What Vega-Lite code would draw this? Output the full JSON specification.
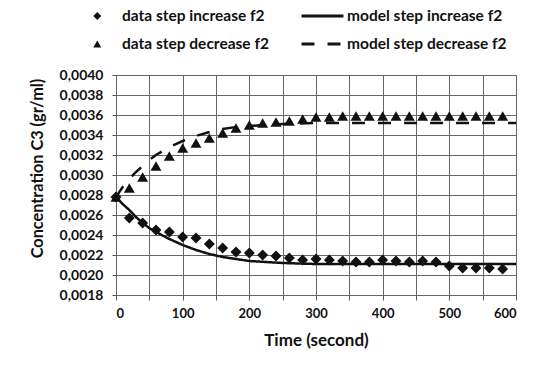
{
  "$schema": "https://vega.github.io/schema/vega-lite/v6.json",
  "width": 400,
  "height": 220,
  "autosize": {"type": "none"},
  "padding": {"left": 116, "top": 75, "right": 17, "bottom": 70},
  "background": "white",
  "config": {
    "font": "Lato",
    "view": {"stroke": "#555", "strokeWidth": 1},
    "axis": {
      "labelFont": "Lato", "labelFontWeight": "bold", "labelColor": "#111",
      "titleFont": "Lato", "titleFontWeight": "bold", "titleColor": "#111",
      "gridColor": "#666", "gridWidth": 1, "gridOpacity": 1,
      "domain": false, "tickColor": "#555", "tickSize": 4
    },
    "legend": {"labelFont": "Lato", "labelFontWeight": "bold", "labelColor": "#111", "labelFontSize": 15.5}
  },
  "data": {"values": [
    {"t": 0, "c": 0.00278, "series": "data step increase f2"},
    {"t": 20, "c": 0.00257, "series": "data step increase f2"},
    {"t": 40, "c": 0.00252, "series": "data step increase f2"},
    {"t": 60, "c": 0.00245, "series": "data step increase f2"},
    {"t": 80, "c": 0.00243, "series": "data step increase f2"},
    {"t": 100, "c": 0.00238, "series": "data step increase f2"},
    {"t": 120, "c": 0.00237, "series": "data step increase f2"},
    {"t": 140, "c": 0.00231, "series": "data step increase f2"},
    {"t": 160, "c": 0.00227, "series": "data step increase f2"},
    {"t": 180, "c": 0.00223, "series": "data step increase f2"},
    {"t": 200, "c": 0.00222, "series": "data step increase f2"},
    {"t": 220, "c": 0.00220, "series": "data step increase f2"},
    {"t": 240, "c": 0.00219, "series": "data step increase f2"},
    {"t": 260, "c": 0.00217, "series": "data step increase f2"},
    {"t": 280, "c": 0.00215, "series": "data step increase f2"},
    {"t": 300, "c": 0.00216, "series": "data step increase f2"},
    {"t": 320, "c": 0.00215, "series": "data step increase f2"},
    {"t": 340, "c": 0.00214, "series": "data step increase f2"},
    {"t": 360, "c": 0.00213, "series": "data step increase f2"},
    {"t": 380, "c": 0.00213, "series": "data step increase f2"},
    {"t": 400, "c": 0.00215, "series": "data step increase f2"},
    {"t": 420, "c": 0.00214, "series": "data step increase f2"},
    {"t": 440, "c": 0.00213, "series": "data step increase f2"},
    {"t": 460, "c": 0.00214, "series": "data step increase f2"},
    {"t": 480, "c": 0.00213, "series": "data step increase f2"},
    {"t": 500, "c": 0.00209, "series": "data step increase f2"},
    {"t": 520, "c": 0.00207, "series": "data step increase f2"},
    {"t": 540, "c": 0.00207, "series": "data step increase f2"},
    {"t": 560, "c": 0.00207, "series": "data step increase f2"},
    {"t": 580, "c": 0.00206, "series": "data step increase f2"},
    {"t": 0, "c": 0.00278, "series": "data step decrease f2"},
    {"t": 20, "c": 0.00287, "series": "data step decrease f2"},
    {"t": 40, "c": 0.00298, "series": "data step decrease f2"},
    {"t": 60, "c": 0.00309, "series": "data step decrease f2"},
    {"t": 80, "c": 0.00319, "series": "data step decrease f2"},
    {"t": 100, "c": 0.00327, "series": "data step decrease f2"},
    {"t": 120, "c": 0.00332, "series": "data step decrease f2"},
    {"t": 140, "c": 0.00337, "series": "data step decrease f2"},
    {"t": 160, "c": 0.00342, "series": "data step decrease f2"},
    {"t": 180, "c": 0.00347, "series": "data step decrease f2"},
    {"t": 200, "c": 0.00350, "series": "data step decrease f2"},
    {"t": 220, "c": 0.00352, "series": "data step decrease f2"},
    {"t": 240, "c": 0.00353, "series": "data step decrease f2"},
    {"t": 260, "c": 0.00354, "series": "data step decrease f2"},
    {"t": 280, "c": 0.00356, "series": "data step decrease f2"},
    {"t": 300, "c": 0.00358, "series": "data step decrease f2"},
    {"t": 320, "c": 0.00358, "series": "data step decrease f2"},
    {"t": 340, "c": 0.00359, "series": "data step decrease f2"},
    {"t": 360, "c": 0.00359, "series": "data step decrease f2"},
    {"t": 380, "c": 0.00359, "series": "data step decrease f2"},
    {"t": 400, "c": 0.00359, "series": "data step decrease f2"},
    {"t": 420, "c": 0.00359, "series": "data step decrease f2"},
    {"t": 440, "c": 0.00359, "series": "data step decrease f2"},
    {"t": 460, "c": 0.00359, "series": "data step decrease f2"},
    {"t": 480, "c": 0.00359, "series": "data step decrease f2"},
    {"t": 500, "c": 0.00359, "series": "data step decrease f2"},
    {"t": 520, "c": 0.00359, "series": "data step decrease f2"},
    {"t": 540, "c": 0.00359, "series": "data step decrease f2"},
    {"t": 560, "c": 0.00359, "series": "data step decrease f2"},
    {"t": 580, "c": 0.00359, "series": "data step decrease f2"},
    {"t": 0, "c": 0.00278, "series": "model step increase f2"},
    {"t": 10, "c": 0.00271, "series": "model step increase f2"},
    {"t": 20, "c": 0.00265, "series": "model step increase f2"},
    {"t": 30, "c": 0.00258, "series": "model step increase f2"},
    {"t": 40, "c": 0.00252, "series": "model step increase f2"},
    {"t": 50, "c": 0.00247, "series": "model step increase f2"},
    {"t": 60, "c": 0.00243, "series": "model step increase f2"},
    {"t": 80, "c": 0.00236, "series": "model step increase f2"},
    {"t": 100, "c": 0.00230, "series": "model step increase f2"},
    {"t": 120, "c": 0.00225, "series": "model step increase f2"},
    {"t": 140, "c": 0.00221, "series": "model step increase f2"},
    {"t": 160, "c": 0.00218, "series": "model step increase f2"},
    {"t": 180, "c": 0.00216, "series": "model step increase f2"},
    {"t": 200, "c": 0.00214, "series": "model step increase f2"},
    {"t": 225, "c": 0.00213, "series": "model step increase f2"},
    {"t": 250, "c": 0.00212, "series": "model step increase f2"},
    {"t": 300, "c": 0.00211, "series": "model step increase f2"},
    {"t": 400, "c": 0.00211, "series": "model step increase f2"},
    {"t": 500, "c": 0.00211, "series": "model step increase f2"},
    {"t": 600, "c": 0.00211, "series": "model step increase f2"},
    {"t": 0, "c": 0.00278, "series": "model step decrease f2"},
    {"t": 10, "c": 0.00288, "series": "model step decrease f2"},
    {"t": 20, "c": 0.00296, "series": "model step decrease f2"},
    {"t": 30, "c": 0.00303, "series": "model step decrease f2"},
    {"t": 40, "c": 0.00309, "series": "model step decrease f2"},
    {"t": 50, "c": 0.00315, "series": "model step decrease f2"},
    {"t": 60, "c": 0.00320, "series": "model step decrease f2"},
    {"t": 80, "c": 0.00328, "series": "model step decrease f2"},
    {"t": 100, "c": 0.00334, "series": "model step decrease f2"},
    {"t": 120, "c": 0.00339, "series": "model step decrease f2"},
    {"t": 140, "c": 0.00343, "series": "model step decrease f2"},
    {"t": 160, "c": 0.00346, "series": "model step decrease f2"},
    {"t": 180, "c": 0.00348, "series": "model step decrease f2"},
    {"t": 200, "c": 0.00349, "series": "model step decrease f2"},
    {"t": 225, "c": 0.00350, "series": "model step decrease f2"},
    {"t": 250, "c": 0.00351, "series": "model step decrease f2"},
    {"t": 300, "c": 0.00352, "series": "model step decrease f2"},
    {"t": 400, "c": 0.00352, "series": "model step decrease f2"},
    {"t": 500, "c": 0.00352, "series": "model step decrease f2"},
    {"t": 600, "c": 0.00352, "series": "model step decrease f2"}
  ]},
  "encoding": {
    "x": {
      "field": "t", "type": "quantitative",
      "scale": {"domain": [0, 600], "nice": false},
      "axis": {"title": "Time (second)", "values": [0,50,100,150,200,250,300,350,400,450,500,550,600],
               "labelFontSize": 13, "labelPadding": 7, "tickSize": 5,
               "titleFontSize": 17, "titlePadding": 12}
    },
    "y": {
      "field": "c", "type": "quantitative",
      "scale": {"domain": [0.0018, 0.0040], "nice": false, "zero": false},
      "axis": {"title": "Concentration C3 (gr/ml)",
               "values": [0.0018,0.0020,0.0022,0.0024,0.0026,0.0028,0.0030,0.0032,0.0034,0.0036,0.0038,0.0040],
               "labelExpr": "replace(format(datum.value, '.4f'), '.', ',')",
               "labelFontSize": 14, "labelPadding": 9,
               "titleFontSize": 16.3, "titlePadding": 14, "titleY": 93}
    }
  },
  "layer": [
    {
      "transform": [{"filter": "indexof(datum.series, 'model') == 0"}],
      "mark": {"type": "line", "color": "#111", "strokeWidth": 2.5},
      "encoding": {
        "strokeDash": {
          "field": "series", "type": "nominal",
          "scale": {"domain": ["model step increase f2", "model step decrease f2"], "range": [[1, 0], [13, 13]]},
          "legend": {
            "title": null, "orient": "none", "legendX": 184, "legendY": -72,
            "direction": "vertical", "rowPadding": 2, "padding": 0,
            "clipHeight": 26, "labelOffset": 2,
            "symbolType": "stroke", "symbolSize": 1764, "symbolStrokeWidth": 3,
            "symbolStrokeColor": "#111"
          }
        }
      }
    },
    {
      "transform": [{"filter": "indexof(datum.series, 'data') == 0"}],
      "mark": {"type": "point", "filled": true, "color": "#111", "opacity": 1, "size": 120},
      "encoding": {
        "shape": {
          "field": "series", "type": "nominal",
          "scale": {
            "domain": ["data step increase f2", "data step decrease f2"],
            "range": ["diamond", "triangle-up"]
          },
          "legend": {
            "title": null, "orient": "none", "legendX": -26.5, "legendY": -72,
            "direction": "vertical", "rowPadding": 2, "padding": 0,
            "clipHeight": 26, "labelOffset": 17,
            "symbolSize": 64, "symbolFillColor": "#111"
          }
        }
      }
    }
  ]
}
